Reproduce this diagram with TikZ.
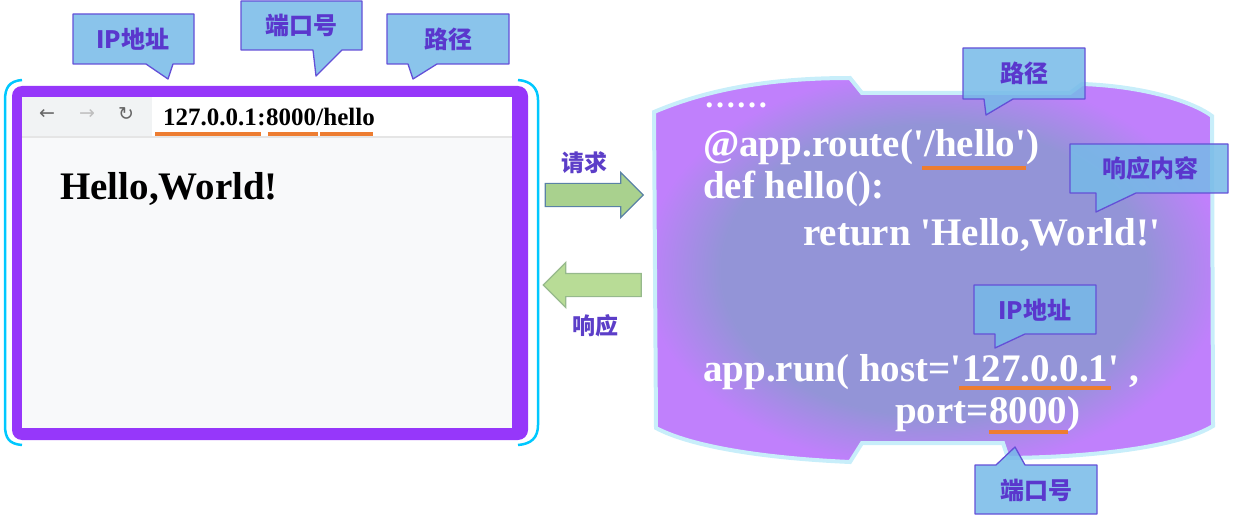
\documentclass[tikz,border=0pt]{standalone}
\usepackage{fontspec}
\setmainfont{Liberation Serif}
\newfontfamily\codefont{Liberation Serif}
\newfontfamily\cjk{Noto Sans CJK SC}
\newfontfamily\symfont{DejaVu Sans}
\usetikzlibrary{shapes.arrows,positioning}

\definecolor{tagfill}{RGB}{118,186,232}
\definecolor{tagline}{RGB}{100,80,215}
\definecolor{tagtext}{RGB}{90,55,205}
\definecolor{cnpurple}{RGB}{92,62,200}
\definecolor{lineorange}{RGB}{237,125,49}
\definecolor{framepurple}{RGB}{150,55,250}
\definecolor{framecyan}{RGB}{0,200,255}
\definecolor{pagegray}{RGB}{248,249,250}
\definecolor{bargray}{RGB}{241,243,244}
\definecolor{panelmid}{RGB}{147,148,215}
\definecolor{paneledge}{RGB}{192,128,252}
\definecolor{glowc}{RGB}{200,238,250}
\definecolor{reqfill}{RGB}{169,209,142}
\definecolor{reqline}{RGB}{90,130,165}
\definecolor{respfill}{RGB}{184,220,150}
\definecolor{respline}{RGB}{150,185,140}
\pgfdeclareradialshading{panelshade}{\pgfpoint{0bp}{0bp}}{color(0bp)=(panelmid); color(19bp)=(panelmid); color(26bp)=(paneledge); color(50bp)=(paneledge)}

\begin{document}
\begin{tikzpicture}[x=1pt,y=-1pt,
  tagshape/.style={draw=tagline, fill=tagfill, fill opacity=.85, line width=1.3pt, line join=round},
  tagtext/.style={text=tagtext, font=\cjk\bfseries\fontsize{24}{24}\selectfont, inner sep=0},
  code/.style={text=white, font=\codefont\bfseries\fontsize{39}{39}\selectfont, inner sep=0, anchor=base west},
  addr/.style={text=black, font=\codefont\bfseries\fontsize{25}{25}\selectfont, inner sep=0, anchor=base west},
  uline/.style={draw=lineorange, line width=4pt},
  flow/.style={single arrow, single arrow head extend=11pt, inner ysep=11pt, inner xsep=0pt, minimum height=98pt, line width=1.2pt},
  cnlabel/.style={text=cnpurple, font=\cjk\bfseries\fontsize{23}{23}\selectfont, inner sep=0},
  icon/.style={font=\symfont\fontsize{19}{19}\selectfont, inner sep=0}]
\useasboundingbox (0,0) rectangle (1259,516);

% browser window
\draw[framecyan, line width=2.5pt] (22,80) .. controls (9,81) and (5,88) .. (5,100) -- (5,425) .. controls (5,438) and (9,444) .. (22,445);
\draw[framecyan, line width=2.5pt] (518,80) .. controls (531,81) and (538,88) .. (538,100) -- (538,425) .. controls (538,438) and (531,444) .. (518,445);
\fill[framepurple, rounded corners=10pt] (12,86) rectangle (528,440);
\fill[pagegray] (22,97) rectangle (512,428);
\fill[bargray] (22,97) rectangle (152,137);
\fill[white] (152,97) rectangle (512,136);
\draw[black!10, line width=1.5pt] (22,137) -- (512,137);
\node[icon, text=black!60] (back) at (47,114) {←};
\node[icon, text=black!25] (fwd) at (87,114) {→};
\node[icon, text=black!60] (reload) at (126,114) {↻};

\node[addr] (ad1) at (163,126) {127.0.0.1};
\node[addr] (ad2) at (ad1.base east) {:};
\node[addr] (ad3) at (ad2.base east) {8000};
\node[addr] (ad4) at (ad3.base east) {/hello};
\draw[uline] ([xshift=-8pt,yshift=-8pt]ad1.base west) -- ([xshift=4pt,yshift=-8pt]ad1.base east);
\draw[uline] ([xshift=2pt,yshift=-8pt]ad3.base west) -- ([xshift=2pt,yshift=-8pt]ad3.base east);
\draw[uline] ([xshift=4pt,yshift=-8pt]ad4.base west) -- ([xshift=-2pt,yshift=-8pt]ad4.base east);
\node[addr, font=\codefont\bfseries\fontsize{39}{39}\selectfont] (page) at (60,200) {Hello,World!};

% request / response
\node[flow, fill=reqfill, draw=reqline] (req) at (588.5,195) {};
\node[flow, fill=respfill, draw=respline, shape border rotate=180] (resp) at (598,285) {};
\node[cnlabel, above=9pt of req, xshift=-4pt] (reqL) {请求};
\node[cnlabel, below=17pt of resp, xshift=-3pt] (respL) {响应};

% code panel
\shadedraw[draw=glowc, line width=4pt, shading=panelshade]
  (654,112) .. controls (720,84) and (790,78) .. (850,78) -- (862,93) -- (1070,93) -- (1082,84)
  .. controls (1140,86) and (1190,100) .. (1212,116) -- (1213,426)
  .. controls (1180,446) and (1100,457) .. (1008,458) -- (1003,443) -- (862,443) -- (850,462)
  .. controls (760,458) and (690,446) .. (656,428) -- cycle;

\node[code, font=\codefont\bfseries\fontsize{32}{32}\selectfont] (dots) at (704,108) {……};
\node[code] (rt1) at (703,157) {@app.route('};
\node[code] (rt2) at (rt1.base east) {/hello'};
\node[code] (rt3) at (rt2.base east) {)};
\draw[uline] ([xshift=-2pt,yshift=-11pt]rt2.base west) -- ([yshift=-11pt]rt2.base east);
\node[code] (df) at (703,199) {def hello():};
\node[code] (rtn) at (803,245) {return 'Hello,World!'};
\node[code] (run1) at (703,381) {app.run( host='};
\node[code] (run2) at (run1.base east) {127.0.0.1};
\node[code] (run3) at (run2.base east) {' ,};
\draw[uline] ([xshift=-3pt,yshift=-7pt]run2.base west) -- ([xshift=2pt,yshift=-7pt]run2.base east);
\node[code] (pt1) at (895,423) {port=};
\node[code] (pt2) at (pt1.base east) {8000};
\node[code] (pt3) at (pt2.base east) {)};
\draw[uline] ([yshift=-9pt]pt2.base west) -- ([yshift=-9pt]pt2.base east);

% tags
\draw[tagshape] (73,14) -- (194,14) -- (194,64) -- (173,64) -- (168,79) -- (146,64) -- (73,64) -- cycle;
\node[tagtext] (ipTop) at (133,39) {IP地址};
\draw[tagshape] (241,1) -- (362,1) -- (362,50) -- (342,50) -- (316,76) -- (313,50) -- (241,50) -- cycle;
\node[tagtext] (portTop) at (301,25) {端口号};
\draw[tagshape] (387,14) -- (509,14) -- (509,64) -- (437,64) -- (413,79) -- (408,64) -- (387,64) -- cycle;
\node[tagtext] (pathTop) at (448,39) {路径};
\draw[tagshape] (963,48) -- (1085,48) -- (1085,99) -- (1013,99) -- (986,115) -- (984,99) -- (963,99) -- cycle;
\node[tagtext] (pathCode) at (1024,73) {路径};
\draw[tagshape] (1070,144) -- (1228,144) -- (1228,193) -- (1136,193) -- (1096,212) -- (1096,193) -- (1070,193) -- cycle;
\node[tagtext] (respCode) at (1150,168) {响应内容};
\draw[tagshape] (974,285) -- (1096,285) -- (1096,334) -- (1025,334) -- (995,348) -- (995,334) -- (974,334) -- cycle;
\node[tagtext] (ipCode) at (1035,310) {IP地址};
\draw[tagshape] (975,465) -- (996,465) -- (1015,447) -- (1025,465) -- (1097,465) -- (1097,514) -- (975,514) -- cycle;
\node[tagtext] (portCode) at (1036,490) {端口号};
\end{tikzpicture}
\end{document}
